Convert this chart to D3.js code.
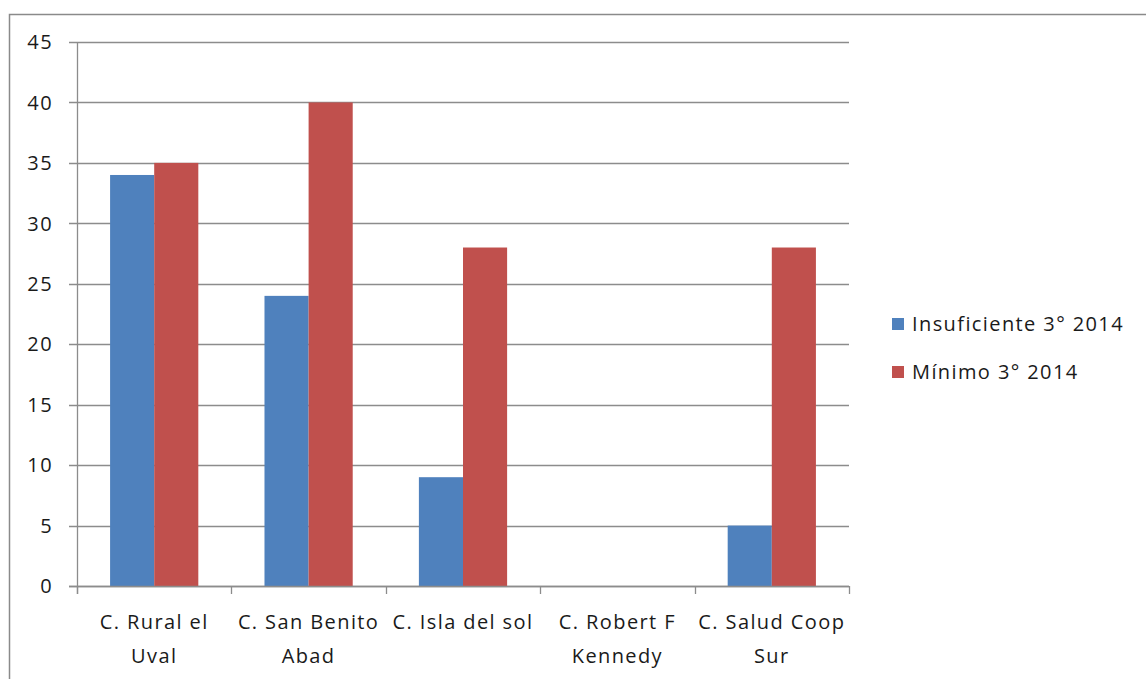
<!DOCTYPE html>
<html><head><meta charset="utf-8">
<script src="https://cdn.jsdelivr.net/npm/d3@7"></script>
<style>body{margin:0;background:#fff}svg{display:block}</style>
</head><body>
<svg id="c" width="1146" height="679"></svg>
<script>
const categories = [["C. Rural el","Uval"],["C. San Benito","Abad"],["C. Isla del sol"],["C. Robert F","Kennedy"],["C. Salud Coop","Sur"]];
const seriesNames = ["Insuficiente 3° 2014","Mínimo 3° 2014"];
const insuficiente = [34,24,9,0,5];
const minimo = [35,40,28,0,28];
const yTicks = [0,5,10,15,20,25,30,35,40,45];
const colors = ["#4F81BD","#C0504D"];

const svg = d3.select("#c");
const font = "'Open Sans', sans-serif";
const fs = 20, ls = 1.4;
const grid = "#8c8c8c";
svg.append("rect").attr("x",9.5).attr("y",14.5).attr("width",1200).attr("height",700)
  .attr("fill","none").attr("stroke","#8a8a8a").attr("stroke-width",1.5);

const L=77, R=849, T=42, B=586;
const x = d3.scaleBand().domain(d3.range(categories.length)).range([L,R]).padding(0);
const y = d3.scaleLinear().domain([0,45]).range([B,T]);
const bw = x.bandwidth()/3.5;

const g = svg.append("g");
g.selectAll("line.grid").data(yTicks).join("line")
  .attr("x1",L-8).attr("x2",R).attr("y1",d=>Math.round(y(d))+0.5).attr("y2",d=>Math.round(y(d))+0.5)
  .attr("stroke",grid).attr("stroke-width",1.3);
g.selectAll("text.yl").data(yTicks).join("text")
  .attr("x",53).attr("y",d=>y(d)).attr("dy","0.36em").attr("text-anchor","end")
  .attr("font-family",font).attr("font-size",fs).attr("letter-spacing",ls).attr("fill","#1a1a1a").text(d=>d);

const data = [insuficiente, minimo];
data.forEach((vals,si)=>{
  g.selectAll("rect.s"+si).data(vals).join("rect")
    .attr("x",(d,i)=>x(i)+bw*0.75+si*bw).attr("width",bw)
    .attr("y",d=>y(d)).attr("height",d=>B-y(d)).attr("fill",colors[si]);
});

// axes
g.append("line").attr("x1",L+0.5).attr("x2",L+0.5).attr("y1",T).attr("y2",B+8).attr("stroke",grid).attr("stroke-width",1.3);
g.append("line").attr("x1",L-8).attr("x2",R).attr("y1",B+0.5).attr("y2",B+0.5).attr("stroke",grid).attr("stroke-width",1.3);
const tickX = d3.range(categories.length+1).map(i=>i<categories.length?x(i):R);
g.selectAll("line.xt").data(tickX).join("line")
  .attr("x1",d=>Math.round(d)+0.5).attr("x2",d=>Math.round(d)+0.5).attr("y1",B).attr("y2",B+8)
  .attr("stroke",grid).attr("stroke-width",1.3);

categories.forEach((lines,i)=>{
  const t = g.append("text").attr("font-family",font).attr("font-size",fs).attr("letter-spacing",ls).attr("fill","#1a1a1a")
    .attr("text-anchor","middle");
  lines.forEach((ln,j)=>t.append("tspan").attr("x",x(i)+x.bandwidth()/2).attr("y",629+j*34).text(ln));
});

// legend
seriesNames.forEach((n,i)=>{
  const ly = 324 + i*48;
  svg.append("rect").attr("x",892).attr("y",ly-6).attr("width",12).attr("height",12).attr("fill",colors[i]);
  svg.append("text").attr("x",912).attr("y",ly).attr("dy","0.36em")
    .attr("font-family",font).attr("font-size",fs).attr("letter-spacing",ls).attr("fill","#1a1a1a").text(n);
});
</script>
</body></html>
